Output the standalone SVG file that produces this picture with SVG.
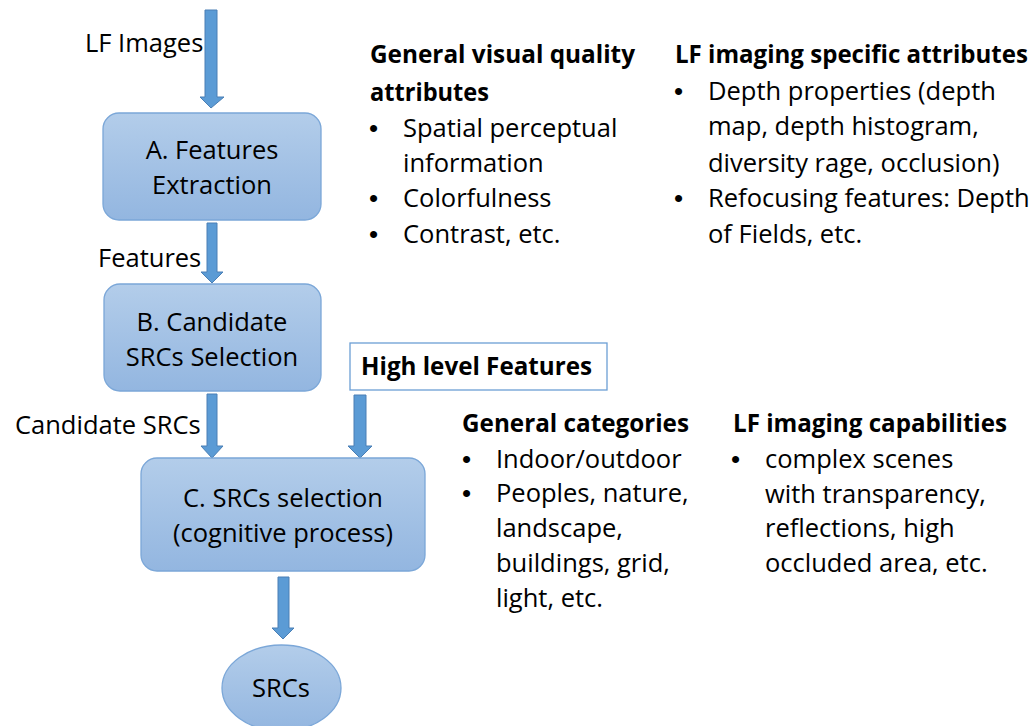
<svg xmlns="http://www.w3.org/2000/svg" width="1034" height="726" viewBox="0 0 1034 726">
<defs>
<linearGradient id="nodeGrad" x1="0" y1="0" x2="0" y2="1">
<stop offset="0" stop-color="#b3cdea"/>
<stop offset="1" stop-color="#93b6e0"/>
</linearGradient>
<style>
.node{fill:url(#nodeGrad);stroke:#7ba7d8;stroke-width:1.3}
.arr{fill:#5b9bd5;stroke:#4a7fb5;stroke-width:1}
text{font-family:"Open Sans","Liberation Sans",sans-serif;font-size:25.5px;fill:#000}
.c{text-anchor:middle}
.b{font-weight:bold;font-size:24.4px}
.bl{font-family:"Liberation Sans",sans-serif;font-size:26px}
.hl{fill:#fff;stroke:#6c9fd5;stroke-width:1.3}
</style>
</defs>
<rect width="1034" height="726" fill="#fff"/>
<g id="connectors">
<path class="arr" d="M205,10 H217 V97 H224 L211,108 L200,97 H205 Z"/>
<path class="arr" d="M207,223 H217 V272 H223 L212,283 L201,272 H207 Z"/>
<path class="arr" d="M207,394 H217 V446 H223 L212,458 L201,446 H207 Z"/>
<path class="arr" d="M354,395 H366 V446 H372 L360,458 L348,446 H354 Z"/>
<path class="arr" d="M278,577 H289 V628 H294 L283,639 L272,628 H278 Z"/>
</g>
<g id="label-lf-images"><text x="85" y="52">LF Images</text></g>
<g id="label-features"><text x="98" y="267">Features</text></g>
<g id="label-candidate"><text x="15" y="434">Candidate SRCs</text></g>
<g id="nodeA">
<rect class="node" x="103" y="113" width="218" height="107" rx="16"/>
<text class="c" x="212" y="159">A. Features</text>
<text class="c" x="212" y="194">Extraction</text>
</g>
<g id="nodeB">
<rect class="node" x="104" y="284" width="217" height="107" rx="16"/>
<text class="c" x="212" y="331">B. Candidate</text>
<text class="c" x="212" y="366">SRCs Selection</text>
</g>
<g id="nodeC">
<rect class="node" x="141" y="458" width="284" height="113" rx="16"/>
<text class="c" x="283" y="507">C. SRCs selection</text>
<text class="c" x="283" y="542">(cognitive process)</text>
</g>
<g id="nodeSRCs">
<ellipse class="node" cx="281.5" cy="688" rx="59.5" ry="43"/>
<text class="c" x="281" y="697">SRCs</text>
</g>
<g id="highLevel">
<rect class="hl" x="350" y="343" width="257" height="47"/>
<text class="b" x="361" y="375" textLength="231" lengthAdjust="spacingAndGlyphs">High level Features</text>
</g>
<g id="generalVisual">
<text class="b" x="370" y="63" textLength="265" lengthAdjust="spacingAndGlyphs">General visual quality</text>
<text class="b" x="370" y="101" textLength="119" lengthAdjust="spacingAndGlyphs">attributes</text>
<text class="bl" x="369" y="137">•</text><text x="403" y="137">Spatial perceptual</text>
<text x="403" y="172">information</text>
<text class="bl" x="369" y="207">•</text><text x="403" y="207">Colorfulness</text>
<text class="bl" x="369" y="243">•</text><text x="403" y="243">Contrast, etc.</text>
</g>
<g id="lfSpecific">
<text class="b" x="675" y="63" textLength="353" lengthAdjust="spacingAndGlyphs">LF imaging specific attributes</text>
<text class="bl" x="674" y="100">•</text><text x="708" y="100">Depth properties (depth</text>
<text x="708" y="135">map, depth histogram,</text>
<text x="708" y="172">diversity rage, occlusion)</text>
<text class="bl" x="674" y="207">•</text><text x="708" y="207">Refocusing features: Depth</text>
<text x="708" y="243">of Fields, etc.</text>
</g>
<g id="generalCategories">
<text class="b" x="462" y="432" textLength="227" lengthAdjust="spacingAndGlyphs">General categories</text>
<text class="bl" x="462" y="468">•</text><text x="496" y="468">Indoor/outdoor</text>
<text class="bl" x="462" y="502">•</text><text x="496" y="502">Peoples, nature,</text>
<text x="496" y="537">landscape,</text>
<text x="496" y="572">buildings, grid,</text>
<text x="496" y="607">light, etc.</text>
</g>
<g id="lfCapabilities">
<text class="b" x="733" y="432" textLength="274" lengthAdjust="spacingAndGlyphs">LF imaging capabilities</text>
<text class="bl" x="731" y="468">•</text><text x="765" y="468">complex scenes</text>
<text x="765" y="503">with transparency,</text>
<text x="765" y="537">reflections, high</text>
<text x="765" y="572">occluded area, etc.</text>
</g>
</svg>
